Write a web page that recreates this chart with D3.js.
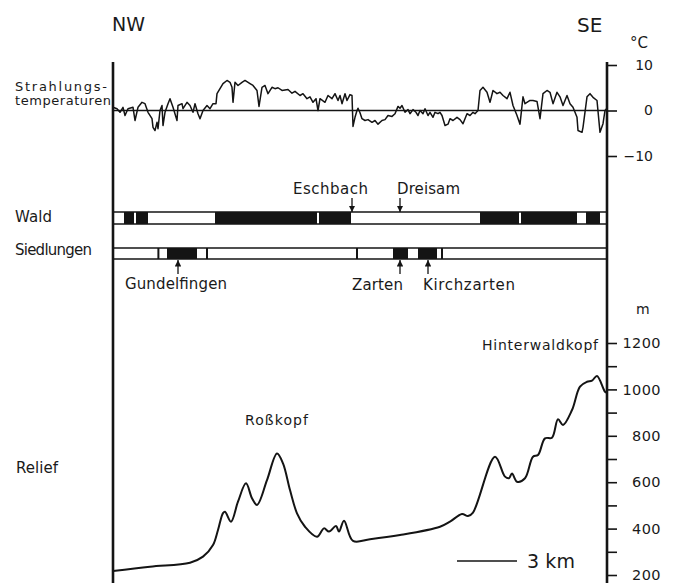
<!DOCTYPE html>
<html><head><meta charset="utf-8">
<script src="https://cdn.jsdelivr.net/npm/d3@7"></script>
<style>
body{margin:0;background:#fff;}
svg{display:block;}
text{font-family:"DejaVu Sans",Arial,sans-serif;fill:#1a1a1a;}
</style></head><body>
<svg id="c" width="677" height="583"></svg>
<script>
// ---- DATA ----
// Strahlungstemperaturen: [Entfernung km von NW, Abweichung °C]
const tempKm = [0,0.2,0.35,0.5,0.6,0.75,1.0,1.1,1.25,1.45,1.6,1.75,1.95,2.0,2.1,2.2,2.25,2.35,2.45,2.5,2.6,2.75,2.85,3.0,3.2,3.25,3.45,3.5,3.7,3.85,4.0,4.1,4.25,4.35,4.5,4.7,4.85,5.0,5.15,5.2,5.35,5.5,5.7,5.85,5.95,6.0,6.1,6.25,6.45,6.6,6.85,7.0,7.2,7.3,7.45,7.6,7.75,7.95,8.1,8.25,8.45,8.75,8.95,9.1,9.35,9.5,9.7,9.85,10.0,10.15,10.25,10.35,10.6,10.75,10.95,11.1,11.25,11.35,11.45,11.6,11.7,11.85,11.95,12.0,12.1,12.2,12.25,12.35,12.45,12.6,12.75,12.95,13.1,13.25,13.45,13.6,13.75,13.95,14.1,14.25,14.35,14.45,14.6,14.75,14.85,15.0,15.15,15.25,15.35,15.5,15.6,15.75,15.85,16.0,16.1,16.25,16.35,16.45,16.6,16.75,16.85,17.0,17.2,17.35,17.5,17.7,17.85,18.0,18.1,18.25,18.35,18.5,18.7,18.85,19.0,19.2,19.35,19.5,19.7,19.85,20.0,20.2,20.35,20.5,20.6,20.85,21.0,21.2,21.35,21.5,21.7,21.85,22.0,22.2,22.35,22.5,22.7,22.85,23.0,23.2,23.25,23.45,23.5,23.7,23.85,24.0,24.2,24.35,24.5,24.6,24.7];
const tempC  = [0.7,0.4,-0.4,0.7,-1.1,0.4,0.7,-2.2,0.7,1.8,1.5,-0.4,-1.8,-3.7,-4.4,-2.6,-4.0,0,1.1,-3.3,-0.4,1.5,2.6,0.7,-2.2,1.1,1.5,0.4,1.8,1.1,-0.4,1.5,-0.7,-1.8,0,1.1,0.4,1.5,1.5,3.7,4.8,5.9,6.6,6.2,5.1,1.8,6.2,5.5,6.2,6.6,5.9,5.5,4.4,0.9,5.1,5.5,3.7,5.1,4.8,5.0,4.4,4.6,3.8,4.2,3.3,3.7,2.6,3.0,1.8,2.6,0,2.6,1.8,3.3,2.6,3.7,2.2,3.3,1.5,3.7,2.2,3.5,3.3,-3.5,-1.5,0,0.5,-0.5,-1.8,-2.2,-2.0,-2.6,-2.2,-3.0,-2.2,-2.0,-1.1,-1.3,-0.7,0.9,0.5,1.1,-0.4,0.2,-0.7,0.2,-0.4,-1.1,0,-0.7,0.4,-1.1,-0.4,-1.5,-0.4,-0.7,-0.4,-1.1,-3.3,-3.0,-1.8,-2.2,-1.5,-2.0,-2.9,-0.7,-1.1,-0.4,-0.7,0,4.4,5.1,4.0,1.8,4.4,3.7,4.0,3.3,2.6,4.0,1.1,-1.1,-3.0,3.0,1.5,2.2,2.2,2.0,-1.8,3.7,4.4,4.0,1.5,4.0,3.0,1.1,3.3,1.5,0.7,-1.5,-4.4,-4.8,-3.7,3.0,3.7,2.9,2.2,-4.8,-2.9,0,0.5];

// Relief: [km, m ü. NN]
const reliefKm = [0,1.85,3.85,4.5,5.0,5.25,5.5,5.6,5.9,6.25,6.65,6.95,7.2,7.7,8.2,8.5,8.85,9.2,9.6,10.2,10.55,10.8,11.15,11.3,11.55,12.0,12.85,14.35,16.35,16.85,17.45,17.75,18.0,19.1,19.6,19.8,19.95,20.2,20.6,21.0,21.25,21.6,21.95,22.25,22.5,22.95,23.35,23.7,23.95,24.2,24.6,24.7];
const reliefM  = [217,236,253,279,329,394,467,473,430,516,595,531,502,609,724,681,566,466,408,365,401,387,411,387,434,347,354,372,408,430,463,454,469,710,624,617,638,602,617,710,717,789,792,871,847,911,1012,1033,1038,1058,990,985];

// Wald / Siedlungen: schwarze Abschnitte [von km, bis km]
const waldSegs = [[0.55,1.05],[1.15,1.75],[5.1,10.2],[10.3,11.9],[18.35,20.3],[20.4,23.2],[23.65,24.35]];
const siedlSegs = [[2.22,2.32],[2.7,4.2],[4.65,4.75],[12.15,12.25],[14.0,14.75],[15.25,16.2],[16.4,16.5]];

// Orts- und Gewässernamen [Name, km]
const aboveNames = [["Eschbach",11.95],["Dreisam",14.35]];
const belowNames = [["Gundelfingen",3.25],["Zarten",14.35],["Kirchzarten",15.75]];

const tempTicks = [10,0,-10];
const reliefTicks = [200,300,400,500,600,700,800,900,1000,1100,1200];
const reliefLabels = [200,400,600,800,1000,1200];
const rowLabels = ["Wald","Siedlungen","Relief"];

// ---- CHART ----
const svg = d3.select("#c");
svg.append("rect").attr("width",677).attr("height",583).attr("fill","#fff");
const ink = "#141414";
const FONT = "DejaVu Sans, Arial, sans-serif";

const x = d3.scaleLinear().domain([0,24.7]).range([113,607]);
const yT = d3.scaleLinear().domain([-10,10]).range([156,65]);
const yR = d3.scaleLinear().domain([200,1200]).range([575,343]);

function label(px,py,txt,size,w){
  const t = svg.append("text").attr("x",px).attr("y",py).style("font-size",size+"px").text(txt);
  if(w) t.attr("textLength",w).attr("lengthAdjust","spacing");
  return t;
}

// left axis
svg.append("line").attr("x1",113).attr("x2",113).attr("y1",62).attr("y2",583).attr("stroke",ink).attr("stroke-width",2.6);

// temperature axis
const gT = svg.append("g").attr("transform","translate(607,0)")
  .call(d3.axisRight(yT).tickValues(tempTicks).tickSize(10).tickPadding(4)
        .tickFormat(d => d < 0 ? "\u2212" + Math.abs(d) : d));
gT.select(".domain").remove();
gT.selectAll(".tick line").attr("stroke",ink).attr("stroke-width",1.6);
gT.selectAll(".tick text").attr("x",46).attr("text-anchor","end")
  .style("font-size","14px").style("font-family",FONT).attr("fill",ink);

// relief axis
const gR = svg.append("g").attr("transform","translate(607,0)")
  .call(d3.axisRight(yR).tickValues(reliefTicks).tickSize(10).tickPadding(4)
        .tickFormat(d => reliefLabels.includes(d) ? d : ""));
gR.select(".domain").remove();
gR.selectAll(".tick line").attr("stroke",ink).attr("stroke-width",1.6);
gR.selectAll(".tick text").attr("x",54).attr("text-anchor","end")
  .style("font-size","14.5px").style("letter-spacing","0.4px").style("font-family",FONT).attr("fill",ink);

svg.append("line").attr("x1",607).attr("x2",607).attr("y1",62).attr("y2",583).attr("stroke",ink).attr("stroke-width",2.6);

// units
label(630,48,"°C",15);
label(636,314,"m",14);

// direction labels
label(112,31,"NW",19);
label(577,32,"SE",20);

// row labels
label(15,91,"Strahlungs-",13,92);
label(15,105,"temperaturen",13,96);
label(15,222,rowLabels[0],15,37);
label(15,255,rowLabels[1],15,77);
label(16,473,rowLabels[2],15,42);

// zero line
svg.append("line").attr("x1",x(0)).attr("x2",x(24.7)).attr("y1",yT(0)).attr("y2",yT(0))
  .attr("stroke",ink).attr("stroke-width",1.5);

// temperature line
const tData = tempKm.map((k,i)=>[k,tempC[i]]);
svg.append("path").datum(tData)
  .attr("d", d3.line().x(d=>x(d[0])).y(d=>yT(d[1])))
  .attr("fill","none").attr("stroke",ink).attr("stroke-width",1.5).attr("stroke-linejoin","round");

// bands
function band(y0,y1,segs){
  const g = svg.append("g");
  g.selectAll("rect.s").data(segs).join("rect")
    .attr("x",d=>x(d[0])).attr("width",d=>x(d[1])-x(d[0]))
    .attr("y",y0).attr("height",y1-y0).attr("fill",ink);
  g.append("line").attr("x1",x(0)).attr("x2",x(24.7)).attr("y1",y0).attr("y2",y0).attr("stroke",ink).attr("stroke-width",1.6);
  g.append("line").attr("x1",x(0)).attr("x2",x(24.7)).attr("y1",y1).attr("y2",y1).attr("stroke",ink).attr("stroke-width",1.6);
}
band(212,224,waldSegs);
band(248,259,siedlSegs);

// arrow marker
const defs = svg.append("defs");
defs.append("marker").attr("id","ah").attr("viewBox","0 0 6 6").attr("refX",6).attr("refY",3)
  .attr("markerWidth",5).attr("markerHeight",5).attr("orient","auto")
  .append("path").attr("d","M0,0 L6,3 L0,6 Z").attr("fill",ink);

// names above Wald band
aboveNames.forEach(([n,k])=>{
  svg.append("line").attr("x1",x(k)).attr("x2",x(k)).attr("y1",198).attr("y2",212)
    .attr("stroke",ink).attr("stroke-width",1.3).attr("marker-end","url(#ah)");
});
label(293,194,aboveNames[0][0],15,75);
label(397,194,aboveNames[1][0],15,63);

// names below Siedlungen band
belowNames.forEach(([n,k])=>{
  svg.append("line").attr("x1",x(k)).attr("x2",x(k)).attr("y1",274).attr("y2",260)
    .attr("stroke",ink).attr("stroke-width",1.3).attr("marker-end","url(#ah)");
});
label(125,289,belowNames[0][0],15,102);
label(352,290,belowNames[1][0],15,51);
label(423,290,belowNames[2][0],15,92);

// relief profile
const rData = reliefKm.map((k,i)=>[k,reliefM[i]]);
svg.append("path").datum(rData)
  .attr("d", d3.line().curve(d3.curveCatmullRom.alpha(0.5)).x(d=>x(d[0])).y(d=>yR(d[1])))
  .attr("fill","none").attr("stroke",ink).attr("stroke-width",2).attr("stroke-linejoin","round");

label(245,425,"Roßkopf",14,63);
label(482,350,"Hinterwaldkopf",14,116);

// scale bar 3 km
svg.append("line").attr("x1",x(17.2)).attr("x2",x(20.2)).attr("y1",561).attr("y2",561).attr("stroke",ink).attr("stroke-width",1.6);
label(527,568,"3 km",19,48);
</script>
</body></html>
